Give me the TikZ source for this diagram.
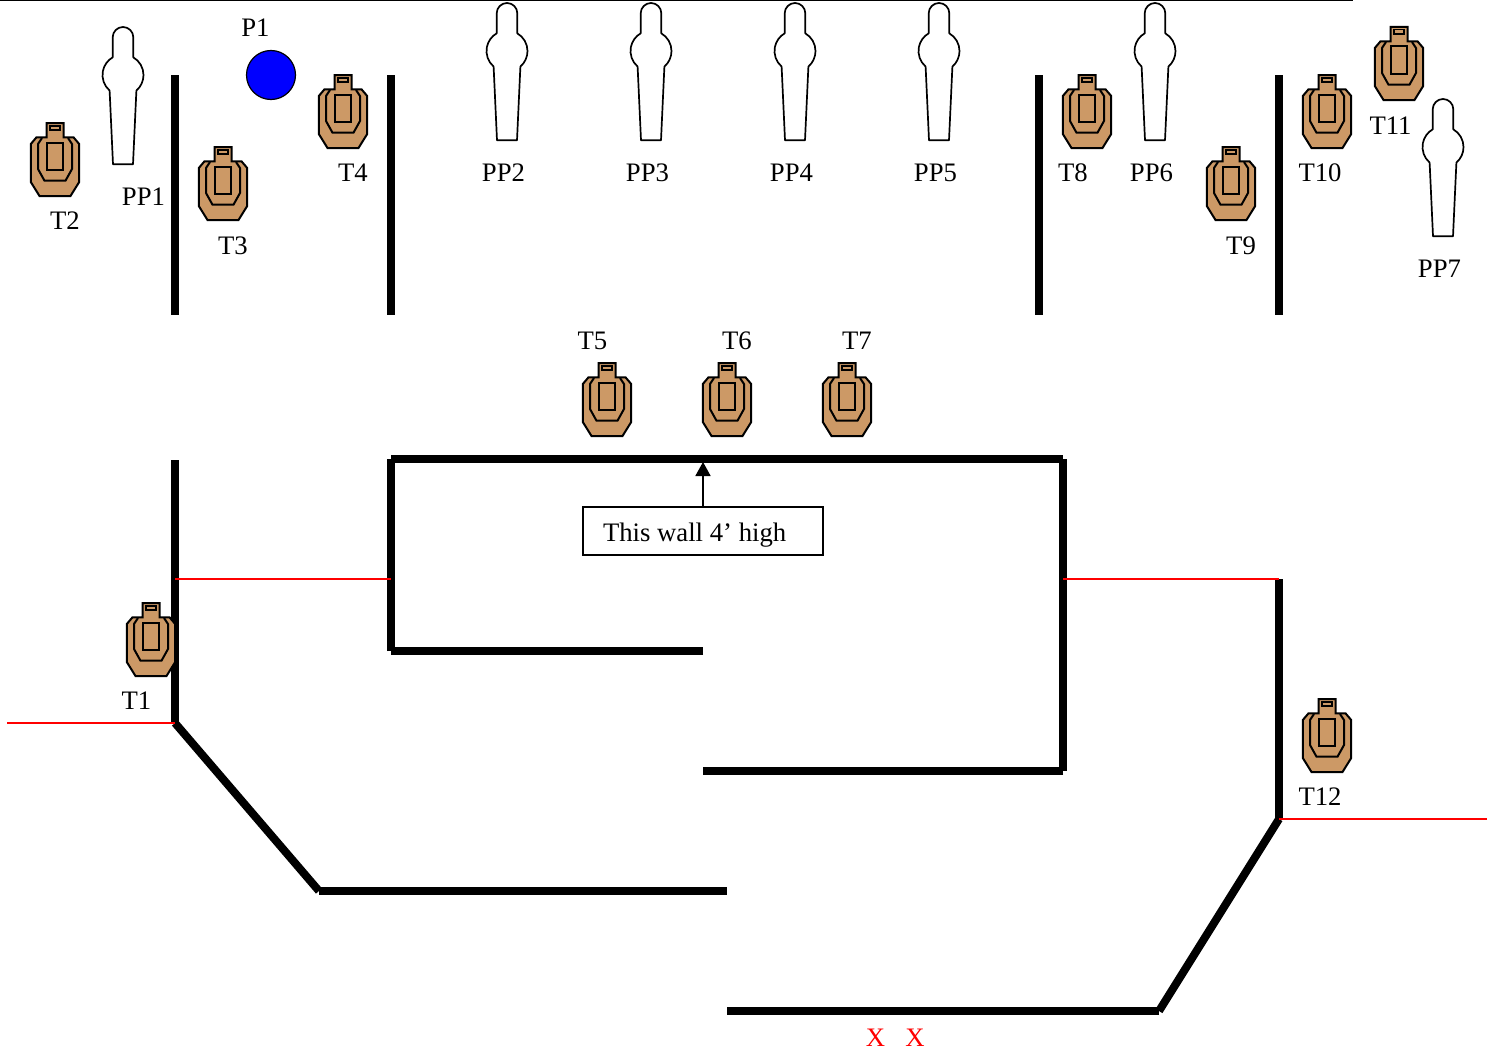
\documentclass[tikz,border=0pt]{standalone}
\usepackage{fontspec}
\setmainfont{Liberation Serif}
\usetikzlibrary{arrows.meta}
\definecolor{tan}{HTML}{CC9966}
\tikzset{
  wall/.style={line width=8pt,draw=black,line cap=butt},
  redline/.style={draw=red,line width=1.8pt},
  lbl/.style={inner sep=0pt,anchor=base,font=\fontsize{26.7}{30}\selectfont},
  target/.pic={
    \draw[fill=tan,line width=2pt,line join=miter]
      (-8.5,0)--(-8.5,14.3)--(-18.5,14.3)--(-24.2,21)--(-24.2,59)--(-15.5,73)--(15.5,73)--(24.2,59)--(24.2,21)--(18.5,14.3)--(8.5,14.3)--(8.5,0)--cycle;
    \draw[line width=2pt] (-13,15)--(-17,21)--(-17,46)--(-10.5,57.7)--(10.5,57.7)--(17,46)--(17,21)--(13,15);
    \draw[line width=2pt] (-8.3,19.5) rectangle (8.3,46.5);
    \draw[line width=1.6pt] (-5.2,2.7) rectangle (5.2,7);
  },
  popper/.pic={
    \draw[fill=white,line width=1.7pt,line join=round]
      (-10,137.3)--(-13.3,65.5)--(-13.45,63.5) arc[start angle=229,end angle=120,radius=20.5pt]
      --(-10.3,10.3) arc[start angle=180,end angle=0,radius=10.3pt]
      --(10.25,30.3) arc[start angle=60,end angle=-49,radius=20.5pt]
      --(13.3,65.5)--(10,137.3)--cycle;
  },
}
\begin{document}
\begin{tikzpicture}[x=1pt,y=-1pt]
\useasboundingbox (0,0) rectangle (1493,1057);
% top line
\coordinate (topL) at (0,0.5);
\coordinate (topR) at (1353,0.5);
\draw[line width=2pt] (topL)--(topR);
% upper walls
\foreach \n/\x in {a/175,b/391,c/1039,d/1279}{
  \coordinate (\n1) at (\x,75);
  \coordinate (\n2) at (\x,315);
  \draw[wall] (\n1)--(\n2);
}
% lower walls: separate straight segments
\coordinate (w1) at (175,460);
\coordinate (w2) at (175,723);
\coordinate (w3) at (319,891);
\coordinate (w4) at (727,891);
\draw[wall] (w1)--(w2);
\draw[wall] (w2)--(w3);
\draw[wall] (w3)--(w4);
\coordinate (m1) at (703,651);
\coordinate (m2) at (391,651);
\coordinate (m3) at (391,459);
\coordinate (m4) at (1063,459);
\coordinate (m5) at (1063,771);
\coordinate (m6) at (703,771);
\draw[wall] (m1)--(m2);
\draw[wall] (m2)--(m3);
\draw[wall] (m3)--(m4);
\draw[wall] (m4)--(m5);
\draw[wall] (m5)--(m6);
\coordinate (r1) at (1279,579);
\coordinate (r2) at (1279,819);
\coordinate (r3) at (1159,1011);
\coordinate (r4) at (727,1011);
\draw[wall] (r1)--(r2);
\draw[wall] (r2)--(r3);
\draw[wall] (r3)--(r4);
% red fault lines
\coordinate (f1) at (175,579);
\coordinate (f2) at (391,579);
\coordinate (f3) at (7,723);
\coordinate (f4) at (1063,579);
\coordinate (f5) at (1487,819);
\draw[redline] (f1)--(f2);
\draw[redline] (f3)--(w2);
\draw[redline] (f4)--(r1);
\draw[redline] (r2)--(f5);
% targets
\foreach \n/\x/\y in {t1/151/603,t2/55/123,t3/223/147,t4/343/75,t5/607/363,t6/727/363,t7/847/363,t8/1087/75,t9/1231/147,t10/1327/75,t11/1399/27,t12/1327/699}{
  \pic (\n) at (\x,\y) {target};
}
% poppers
\foreach \n/\x/\y in {pp1/123/27,pp2/507/3,pp3/651/3,pp4/795/3,pp5/939/3,pp6/1155/3,pp7/1443/99}{
  \pic (\n) at (\x,\y) {popper};
}
% plate
\node[circle,fill=blue,draw=black,line width=1.2pt,minimum size=49pt,inner sep=0pt] (plate) at (271,75) {};
% labels
\foreach \n/\x/\y/\t in {
  lp1/255.5/37/P1,lpp1/143.5/205/PP1,lt2/65/229/T2,lt3/233/254/T3,lt4/353/181/T4,
  lpp2/503.5/181/PP2,lpp3/647.5/181/PP3,lpp4/791.5/181/PP4,lpp5/935.5/181/PP5,
  lt8/1073/181/T8,lpp6/1151.5/181/PP6,lt9/1241/254/T9,lt10/1320/181/T10,
  lt11/1390.5/134/T11,lpp7/1439.5/277/PP7,lt5/592.5/349/T5,lt6/737/349/T6,lt7/857/349/T7,
  lt1/136.5/709/T1,lt12/1320/805/T12}{
  \node[lbl] (\n) at (\x,\y) {\t};
}
\node[lbl,text=red] (x1) at (875.5,1046) {X};
\node[lbl,text=red] (x2) at (915,1046) {X};
% note box
\node[draw=black,line width=1.8pt,fill=white,minimum width=240pt,minimum height=48pt,inner ysep=0pt,inner xsep=20pt,text width=200pt,align=left,font=\fontsize{26.7}{30}\selectfont] (note) at (703,531) {\spaceskip=6.7pt\raisebox{-10.5pt}[0pt][0pt]{This wall 4’ high}};
\coordinate (wallpt) at (703,462);
\draw[line width=1.8pt,-{Triangle[length=14pt,width=15pt]}] (note.north)--(wallpt);
\end{tikzpicture}
\end{document}
